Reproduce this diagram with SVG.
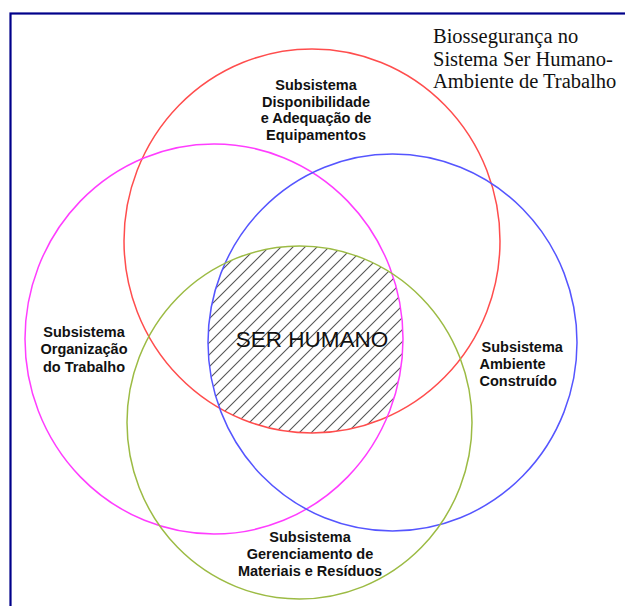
<svg xmlns="http://www.w3.org/2000/svg" width="625" height="606" viewBox="0 0 625 606">
<style>
.ring{fill:none;stroke-width:1.5}
.lbl{font-family:"Liberation Sans",Arial,sans-serif;font-weight:bold;font-size:14.5px;fill:#111}
.c{text-anchor:middle}
.title{font-family:"Liberation Serif","Times New Roman",serif;font-size:20.5px;fill:#111}
</style>
<defs>
<pattern id="hatch" patternUnits="userSpaceOnUse" width="12" height="12">
<path d="M-3,3 L3,-3 M0,12 L12,0 M9,15 L15,9" stroke="#555" stroke-width="1.1"/>
</pattern>
<clipPath id="cRed"><ellipse cx="312" cy="241" rx="188" ry="192"/></clipPath>
<clipPath id="cMag"><ellipse cx="214" cy="339" rx="189" ry="195"/></clipPath>
<clipPath id="cBlue"><ellipse cx="392.5" cy="342.5" rx="184.5" ry="188.5"/></clipPath>
<clipPath id="cGreen"><ellipse cx="299.5" cy="422.5" rx="172.5" ry="176.5"/></clipPath>
</defs>
<rect x="0" y="0" width="625" height="606" fill="#fff"/>
<rect x="10.5" y="13.5" width="700" height="700" fill="none" stroke="#00008a" stroke-width="2.2"/>
<g id="core">
<g clip-path="url(#cRed)"><g clip-path="url(#cMag)"><g clip-path="url(#cBlue)"><g clip-path="url(#cGreen)">
<rect x="100" y="200" width="420" height="280" fill="url(#hatch)"/>
</g></g></g></g>
<text x="312" y="347" text-anchor="middle" font-family="'Liberation Sans',Arial,sans-serif" font-size="22.5" fill="#111">SER HUMANO</text>
</g>
<g id="equipamentos">
<ellipse class="ring" cx="312" cy="241" rx="188" ry="192" stroke="#ff4d4d"/>
<text class="lbl c" x="316" y="90">Subsistema</text>
<text class="lbl c" x="316" y="106.7">Disponibilidade</text>
<text class="lbl c" x="316" y="123.3">e Adequação de</text>
<text class="lbl c" x="316" y="140">Equipamentos</text>
</g>
<g id="organizacao">
<ellipse class="ring" cx="214" cy="339" rx="189" ry="195" stroke="#ff3dff"/>
<text class="lbl c" x="84" y="337.3">Subsistema</text>
<text class="lbl c" x="84" y="354.3">Organização</text>
<text class="lbl c" x="84" y="371.6">do Trabalho</text>
</g>
<g id="ambiente">
<ellipse class="ring" cx="392.5" cy="342.5" rx="184.5" ry="188.5" stroke="#5555ff"/>
<text class="lbl" x="481.5" y="352.3">Subsistema</text>
<text class="lbl" x="479.5" y="369">Ambiente</text>
<text class="lbl" x="479.5" y="385.7">Construído</text>
</g>
<g id="residuos">
<ellipse class="ring" cx="299.5" cy="422.5" rx="172.5" ry="176.5" stroke="#9cbb44"/>
<text class="lbl c" x="310" y="542.3">Subsistema</text>
<text class="lbl c" x="310" y="559">Gerenciamento de</text>
<text class="lbl c" x="310" y="575.5">Materiais e Resíduos</text>
</g>
<g id="titulo">
<text class="title" x="433" y="43.3">Biossegurança no</text>
<text class="title" x="433" y="65.5">Sistema Ser Humano-</text>
<text class="title" x="433" y="87.5">Ambiente de Trabalho</text>
</g>
<g id="connectors"/>
</svg>
